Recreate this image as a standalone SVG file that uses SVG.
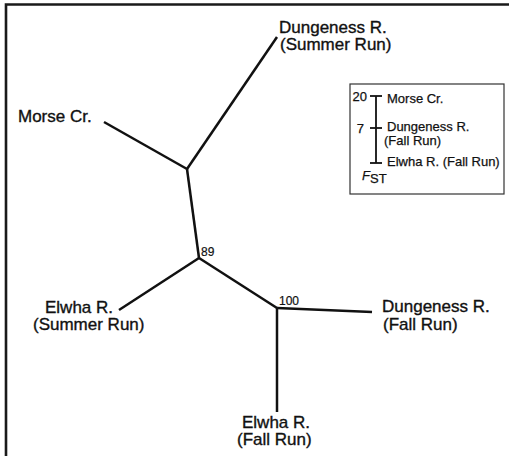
<svg xmlns="http://www.w3.org/2000/svg" width="509" height="456" viewBox="0 0 509 456">
<style>
.lbl{font-family:"Liberation Sans",Arial,sans-serif;font-size:17px;fill:#111;stroke:#111;stroke-width:0.35}
.sm{font-family:"Liberation Sans",Arial,sans-serif;font-size:13px;fill:#111;stroke:#111;stroke-width:0.25}
.bs{font-family:"Liberation Sans",Arial,sans-serif;font-size:12px;fill:#111;stroke:#111;stroke-width:0.2}
.br{stroke:#111;stroke-width:2.5;fill:none;stroke-linecap:butt}
.ln{stroke:#111;stroke-width:1.8;fill:none}
</style>
<rect width="509" height="456" fill="#fff"/>
<path d="M6,456 V4.5 H509" stroke="#1a1a1a" stroke-width="2.6" fill="none"/>
<g id="connectors">
<line class="br" x1="187" y1="169" x2="277" y2="37"/>
<line class="br" x1="187" y1="169" x2="104" y2="122"/>
<line class="br" x1="187" y1="169" x2="199" y2="258"/>
<line class="br" x1="199" y1="258" x2="119" y2="310"/>
<line class="br" x1="199" y1="258" x2="277" y2="308"/>
<line class="br" x1="277" y1="308" x2="372" y2="312"/>
<line class="br" x1="277" y1="308" x2="277" y2="412"/>
</g>
<g id="node-89"><text class="bs" x="201" y="256">89</text></g>
<g id="node-100"><text class="bs" x="279" y="305">100</text></g>
<g id="dungeness-summer"><text class="lbl" x="279" y="33">Dungeness R.</text><text class="lbl" x="280" y="50">(Summer Run)</text></g>
<g id="morse"><text class="lbl" x="18" y="122">Morse Cr.</text></g>
<g id="elwha-summer"><text class="lbl" x="45" y="313">Elwha R.</text><text class="lbl" x="33" y="330">(Summer Run)</text></g>
<g id="dungeness-fall"><text class="lbl" x="382" y="312">Dungeness R.</text><text class="lbl" x="383" y="330">(Fall Run)</text></g>
<g id="elwha-fall"><text class="lbl" x="242" y="428">Elwha R.</text><text class="lbl" x="237" y="445">(Fall Run)</text></g>
<g id="legend">
<rect x="350" y="84" width="154" height="110" fill="none" stroke="#333" stroke-width="1.2"/>
<line class="ln" x1="376" y1="96" x2="376" y2="163"/>
<line class="ln" x1="370" y1="96" x2="382" y2="96"/>
<line class="ln" x1="370" y1="128" x2="382" y2="128"/>
<line class="ln" x1="370" y1="163" x2="382" y2="163"/>
<text class="sm" x="367" y="101" text-anchor="end">20</text>
<text class="sm" x="364" y="133" text-anchor="end">7</text>
<text class="sm" x="387" y="103">Morse Cr.</text>
<text class="sm" x="387" y="131">Dungeness R.</text>
<text class="sm" x="384" y="145">(Fall Run)</text>
<text class="sm" x="387" y="166">Elwha R. (Fall Run)</text>
<text class="sm" x="362" y="180" font-style="italic">F</text>
<text class="sm" x="370" y="183" font-size="9">ST</text>
</g>
</svg>
